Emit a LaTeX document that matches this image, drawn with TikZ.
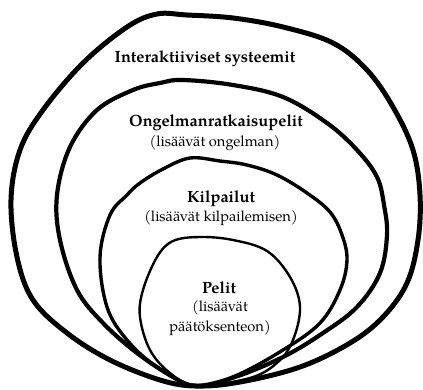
\documentclass[tikz,border=0pt]{standalone}
\usepackage{fontspec}
\setmainfont{TeX Gyre Pagella}
\begin{document}
\begin{tikzpicture}[x=1pt,y=-1pt,
  ring/.style={line join=round, line cap=round, black},
  title/.style={font=\fontsize{16.3}{18}\selectfont\bfseries, inner sep=0pt, anchor=center},
  sub/.style={font=\fontsize{14.7}{20}\selectfont, inner sep=0pt, anchor=center, align=center}]
\useasboundingbox (0,0) rectangle (423,389);
% outer
\draw[ring, line width=5pt] plot[smooth cycle, tension=0.6] coordinates {
 (196,386) (160,380) (110,360) (67,333) (33,300) (17,257) (11,200) (20,150) (43,110)
 (83,63) (127,27) (157,14) (187,15) (233,18) (283,27) (333,43) (367,70) (393,107)
 (413,150) (420,195) (418,240) (407,283) (383,317) (350,343) (300,367) (240,382)};
% second
\draw[ring, line width=4.2pt] plot[smooth cycle, tension=0.6] coordinates {
 (196,386) (173,377) (137,353) (103,323) (77,290) (60,240) (57,195) (70,147) (97,110)
 (133,90) (160,83) (183,80) (233,85) (283,97) (327,123) (357,150) (377,177) (384,205)
 (387,235) (380,273) (357,307) (323,333) (283,357) (235,377)};
% third
\draw[ring, line width=3.4pt] plot[smooth cycle, tension=0.6] coordinates {
 (196,386) (157,367) (127,340) (107,307) (100,257) (110,215) (127,195) (140,183)
 (163,169) (190,158) (220,161) (247,165) (277,175) (307,193) (330,212) (342,235)
 (347,260) (340,290) (320,323) (283,350) (235,376)};
% inner
\draw[ring, line width=2.4pt] plot[smooth cycle, tension=0.6] coordinates {
 (196,386) (170,373) (150,350) (140,317) (143,290) (157,257) (173,241) (200,237)
 (233,240) (267,251) (290,277) (300,307) (293,340) (278,362) (250,378)};
\node[title] (t1) at (205,59) {Interaktiiviset systeemit};
\node[title] (t2) at (216,123) {Ongelmanratkaisupelit};
\node[sub] (s2) at (215,143.5) {(lisäävät ongelman)};
\node[title] (t3) at (221,199) {Kilpailut};
\node[sub] (s3) at (221,218) {(lisäävät kilpailemisen)};
\node[title] (t4) at (219,288) {Pelit};
\node[sub] (s4) at (220,318) {(lisäävät\\päätöksenteon)};
\end{tikzpicture}
\end{document}
